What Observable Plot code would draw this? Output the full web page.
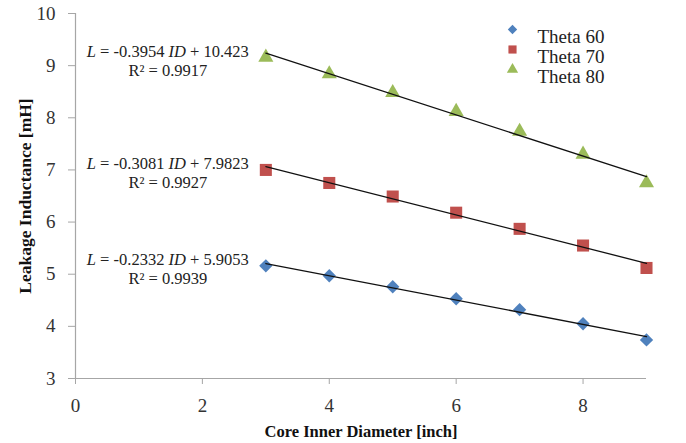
<!DOCTYPE html>
<html>
<head>
<meta charset="utf-8">
<script src="https://cdn.jsdelivr.net/npm/d3@7"></script>
<script src="https://cdn.jsdelivr.net/npm/@observablehq/plot@0.6"></script>
<style>
  html, body { margin: 0; padding: 0; background: #fff; }
  #chart { position: relative; width: 686px; height: 443px; }
  #chart svg, #chart svg text { font-family: "Liberation Serif", "Times New Roman", serif !important; }
</style>
</head>
<body>
<div id="chart"></div>
<script>
const coreDiameter = [3, 4, 5, 6, 7, 8, 9];
const theta60 = [5.16, 4.97, 4.76, 4.53, 4.32, 4.05, 3.74];
const theta70 = [7.00, 6.75, 6.49, 6.18, 5.87, 5.55, 5.12];
const theta80 = [9.16, 8.84, 8.48, 8.12, 7.74, 7.30, 6.75];
const seriesNames = ["Theta 60", "Theta 70", "Theta 80"];
const seriesValues = [theta60, theta70, theta80];
const eqSlopes = ["-0.2332", "-0.3081", "-0.3954"];
const eqIntercepts = ["5.9053", "7.9823", "10.423"];
const eqR2 = ["0.9939", "0.9927", "0.9917"];
const xTicks = [0, 2, 4, 6, 8];
const yTicks = [3, 4, 5, 6, 7, 8, 9, 10];

const colors = ["#4F81BD", "#C0504D", "#9BBB59"];
const symbols = ["diamond2", "square", "triangle"];
const radii = [6.0, 6.8, 5.6];
const legendRadii = [4.2, 4.6, 4.2];

const points = [];
seriesNames.forEach((s, i) => {
  coreDiameter.forEach((x, j) => points.push({series: s, x, y: seriesValues[i][j]}));
});
const equations = seriesNames.map((s, i) => ({
  series: s, x: coreDiameter[0], y: seriesValues[i][0],
  line1: `L = ${eqSlopes[i]} ID + ${eqIntercepts[i]}`,
  line2: `R² = ${eqR2[i]}`
}));

const marks = [
  Plot.ruleX([0], {stroke: "#A6A6A6", strokeWidth: 1.2}),
  Plot.ruleY([3], {stroke: "#A6A6A6", strokeWidth: 1.2}),
];
seriesNames.forEach((s, i) => {
  marks.push(Plot.dot(points.filter(d => d.series === s), {
    x: "x", y: "y", symbol: () => symbols[i], fill: colors[i], r: radii[i], stroke: "none"
  }));
});
marks.push(Plot.linearRegressionY(points, {x: "x", y: "y", z: "series", stroke: "#111", strokeWidth: 1.3, ci: 0}));
marks.push(Plot.text(equations, {
  x: "x", y: "y", text: "line1", dx: -98, dy: -6, fontSize: 16.5, fill: "#222"
}));
marks.push(Plot.text(equations, {
  x: "x", y: "y", text: "line2", dx: -98, dy: 13, fontSize: 16.5, fill: "#222"
}));
seriesNames.forEach((s, i) => {
  marks.push(Plot.dot([s], {
    frameAnchor: "top-left", dx: 437, dy: 16 + 20 * i,
    symbol: () => symbols[i], fill: colors[i], r: legendRadii[i], stroke: "none"
  }));
  marks.push(Plot.text([s], {
    frameAnchor: "top-left", dx: 462, dy: 16 + 20 * i, text: d => d,
    textAnchor: "start", fontSize: 19, fill: "#222"
  }));
});
marks.push(Plot.axisX(xTicks, {
  tickSize: 6, tickPadding: 14, fontSize: 19, stroke: "#A6A6A6", color: "#333",
  tickFormat: d3.format("d"),
  label: "Core Inner Diameter [inch]", labelAnchor: "center", labelOffset: 58
}));
marks.push(Plot.axisY(yTicks, {
  tickSize: 7, tickPadding: 13, fontSize: 19, stroke: "#A6A6A6", color: "#333",
  tickFormat: d3.format("d"),
  label: "Leakage Inductance [mH]", labelAnchor: "center", labelOffset: 57
}));

const chart = Plot.plot({
  width: 686, height: 443,
  marginLeft: 75, marginRight: 40, marginTop: 13, marginBottom: 65,
  style: {fontFamily: "Liberation Serif", background: "#fff"},
  symbol: {type: "identity"},
  x: {domain: [0, 9]},
  y: {domain: [3, 10]},
  marks
});

// italicize variables in equations
d3.select(chart).selectAll("text").each(function() {
  const t = d3.select(this);
  const str = t.text();
  const m = str.match(/^L = (\S+) ID \+ (\S+)$/);
  if (!m) return;
  t.selectAll("*").remove();
  t.text(null);
  t.append("tspan").attr("font-style", "italic").text("L");
  t.append("tspan").text(` = ${m[1]} `);
  t.append("tspan").attr("font-style", "italic").text("ID");
  t.append("tspan").text(` + ${m[2]}`);
});
// axis labels: bold, no arrows
d3.select(chart).selectAll("text").each(function() {
  const t = d3.select(this);
  const str = t.text();
  if (/Core Inner|Leakage/.test(str)) {
    const clean = str.replace(/[↑→←↓]/g, "").trim();
    t.selectAll("*").remove();
    t.text(clean).attr("font-weight", "bold").attr("font-size", /Leakage/.test(clean) ? 17.5 : 16.5).attr("fill", "#111");
  }
});

document.getElementById("chart").appendChild(chart);
</script>
</body>
</html>
